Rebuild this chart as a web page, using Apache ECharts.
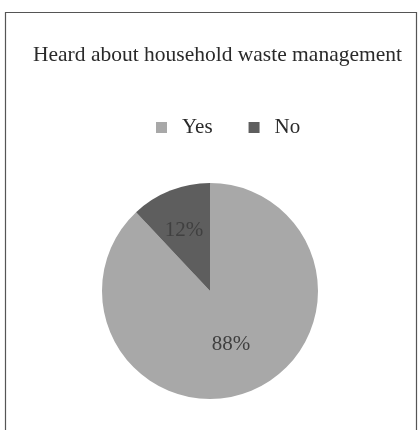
<!DOCTYPE html>
<html>
<head>
<meta charset="utf-8">
<script src="https://cdn.jsdelivr.net/npm/echarts@6/dist/echarts.min.js"></script>
<style>
html, body { margin: 0; padding: 0; background: #fff; }
#chart-container { width: 418px; height: 430px; }
</style>
</head>
<body>
<div id="chart-container"></div>
<script>
var categories = ['Yes', 'No'];
var shares = [88, 12];
var sliceColors = ['#a8a8a8', '#5e5e5e'];

var dom = document.getElementById('chart-container');
var myChart = echarts.init(dom, null, { renderer: 'canvas' });

var fontFamily = '"Liberation Serif", "DejaVu Serif", serif';

var option = {
    backgroundColor: '#ffffff',
    animation: false,
    graphic: [{
        type: 'rect',
        shape: { x: 5.5, y: 12.5, width: 411, height: 430 },
        style: { fill: 'none', stroke: '#555', lineWidth: 1.2 },
        silent: true
    }],
    title: {
        text: 'Heard about household waste management',
        left: 28,
        top: 39,
        textStyle: {
            fontFamily: fontFamily,
            fontWeight: 'normal',
            fontSize: 21.5,
            color: '#2a2a2a'
        }
    },
    legend: {
        data: categories,
        top: 112,
        left: 151,
        icon: 'rect',
        itemWidth: 11,
        itemHeight: 11,
        itemGap: 36,
        textStyle: {
            fontFamily: fontFamily,
            fontSize: 21,
            color: '#2a2a2a',
            padding: [0, 0, 0, 10]
        }
    },
    series: [{
        type: 'pie',
        center: [210, 291],
        radius: 108,
        startAngle: 90,
        clockwise: true,
        label: {
            show: true,
            position: 'inside',
            formatter: '{c}%',
            fontFamily: fontFamily,
            fontSize: 21,
            color: '#404040'
        },
        labelLine: { show: false },
        itemStyle: { borderWidth: 0 },
        data: categories.map(function (name, i) {
            var item = { name: name, value: shares[i], itemStyle: { color: sliceColors[i] } };
            if (name === 'No') {
                item.label = { offset: [-5, -8] };
            }
            return item;
        })
    }]
};

myChart.setOption(option);
window.addEventListener('resize', myChart.resize);
</script>
</body>
</html>
